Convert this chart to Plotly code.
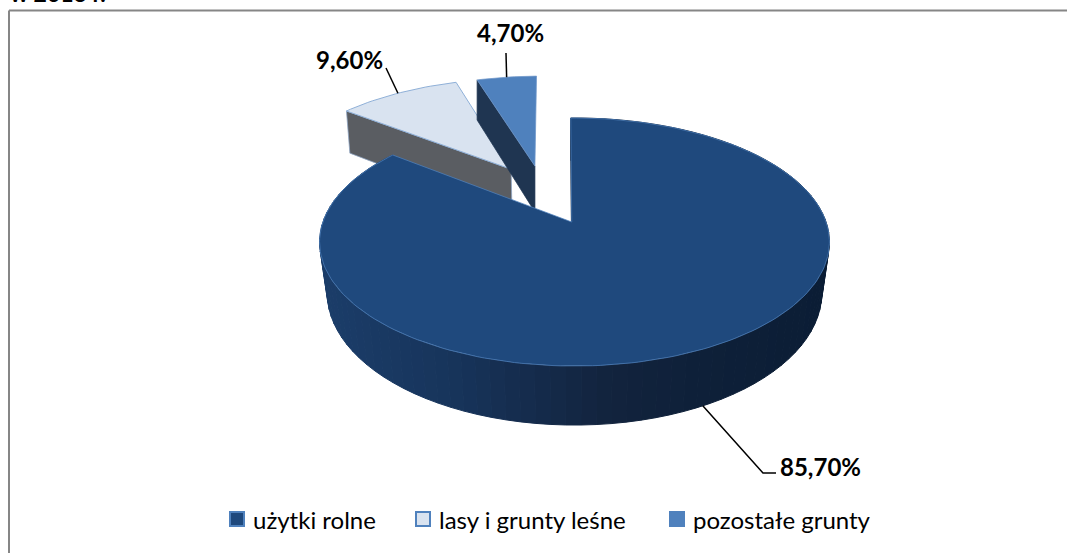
import math
import plotly.graph_objects as go

# ---- data ----
categories = ["użytki rolne", "lasy i grunty leśne", "pozostałe grunty"]
shares = [85.7, 9.6, 4.7]
title_text = "w 2013 r."

# ---- styling / projection constants ----
top_colors = ["#1f497d", "#d9e3f0", "#4f81bd"]
edge_colors = ["#4f81bd", "#8fb0d8", "#4f81bd"]
cut_colors = ["#14305a", "#5a5d62", "#1f3551"]
legend_line = ["#4f81bd", "#4f81bd", "#4f81bd"]
side_ramp = [(320, "#1b3d69"), (450, "#17345b"), (610, "#12233d"), (700, "#0e2039"), (830, "#0b1d35")]
CX, CY, A, B, K = 574.5, 222.0, 251.6, 120.8, 0.1613
FIRST_ANGLE = -1.0
DEPTH, SHRINK = 49.5, 0.97
EXPLODE = [(0.0, 0.0), (-0.271, 0.47), (-0.17, 0.5)]
MAIN_APEX_U = -0.011
W, H = 1067, 554
legend_marker_x = [237, 423, 677]
legend_text_x = [251, 437, 691]
legend_y = 519


def project(u, v, low=False, shrink=SHRINK):
    s = 1.0 / (1.0 + K * v)
    x = A * u * s
    y = CY - B * v * s
    if low:
        return CX + x * shrink, y + DEPTH * s
    return CX + x, y


def rim(theta_deg, off, low=False, shrink=SHRINK):
    t = math.radians(theta_deg)
    return project(math.sin(t) + off[0], math.cos(t) + off[1], low, shrink)


def arc(start, end, off, low=False, step=1.5):
    n = max(2, int(abs(end - start) / step) + 1)
    return [rim(start + (end - start) * i / (n - 1), off, low) for i in range(n)]


def ramp(x):
    if x <= side_ramp[0][0]:
        return side_ramp[0][1]
    for (x0, c0), (x1, c1) in zip(side_ramp, side_ramp[1:]):
        if x <= x1:
            t = (x - x0) / (x1 - x0)
            a = [int(c0[i:i + 2], 16) for i in (1, 3, 5)]
            b = [int(c1[i:i + 2], 16) for i in (1, 3, 5)]
            return "#%02x%02x%02x" % tuple(round(p + (q - p) * t) for p, q in zip(a, b))
    return side_ramp[-1][1]


fig = go.Figure()


def poly(points, fill, line=None, width=1.0):
    xs = [p[0] for p in points] + [points[0][0]]
    ys = [p[1] for p in points] + [points[0][1]]
    fig.add_trace(go.Scatter(x=xs, y=ys, mode="lines", fill="toself", fillcolor=fill,
                             line=dict(color=line or fill, width=width),
                             hoverinfo="skip", showlegend=False))


def path(points, color="#000000", width=1.5):
    fig.add_trace(go.Scatter(x=[p[0] for p in points], y=[p[1] for p in points], mode="lines",
                             line=dict(color=color, width=width),
                             hoverinfo="skip", showlegend=False))


angles = []
acc = 0.0
for v in shares:
    angles.append((FIRST_ANGLE + acc * 3.6, FIRST_ANGLE + (acc + v) * 3.6))
    acc += v

# lasy: cut face then top
s, e = angles[1]
off = EXPLODE[1]
a0, a1 = project(off[0], off[1]), project(off[0], off[1], True, 0.985)
r0, r1 = rim(s, off), rim(s, off, True, 0.985)
poly([r0, a0, a1, r1], cut_colors[1], "#8fa6c4", 0.75)
poly([a0] + arc(s, e, off), top_colors[1], edge_colors[1], 1)

# pozostałe: cut face then top
s, e = angles[2]
off = EXPLODE[2]
a0, a1 = project(off[0], off[1]), project(off[0], off[1], True, 1.0)
r0, r1 = rim(s, off), rim(s, off, True, 1.0)
poly([r0, a0, a1, r1], cut_colors[2], cut_colors[2], 0.75)
poly([a0] + arc(s, e, off), top_colors[2], "#6f97c9", 0.75)

# użytki rolne: side strips with a shading ramp, then top
s, e = angles[0]
off = EXPLODE[0]
a0, a1 = project(MAIN_APEX_U, 0), project(MAIN_APEX_U, 0, True)
poly([rim(s, off), a0, a1, rim(s, off, True)], "#10243f")
strip = 3.0
n = int(round((e - s) / strip))
for i in range(n):
    t0 = s + (e - s) * i / n
    t1 = s + (e - s) * (i + 1) / n
    mid = rim((t0 + t1) / 2, off)[0]
    poly(arc(t0, t1, off) + arc(t1, t0, off, True), ramp(mid))
poly([a0] + arc(s, e, off), top_colors[0], edge_colors[0], 0.75)

# leader lines and data labels
label_pos = [(820, 466), (349, 59), (510, 32)]
elbows = [[(763, 473), (776, 473)], [(386, 68)], [(506, 53)]]
for i, v in enumerate(shares):
    m = sum(angles[i]) / 2
    start = rim(m, EXPLODE[i], low=(i == 0))
    path([start] + elbows[i])
    fig.add_annotation(x=label_pos[i][0], y=label_pos[i][1], text=f"<b>{v:.2f}%</b>".replace(".", ","),
                       showarrow=False, font=dict(family="Lato", size=24, color="#000000"),
                       xanchor="center", yanchor="middle")

# legend entries
for i, c in enumerate(categories):
    fig.add_trace(go.Scatter(x=[legend_marker_x[i]], y=[legend_y], mode="markers", name=c,
                             marker=dict(symbol="square", size=14, color=top_colors[i],
                                         line=dict(color=legend_line[i], width=2)),
                             hoverinfo="name", showlegend=False))
    fig.add_annotation(x=legend_text_x[i], y=legend_y, text=c, showarrow=False, xanchor="left", yanchor="middle",
                       font=dict(family="Lato", size=24, color="#000000"))

fig.add_annotation(x=8, y=9, text=f"<b>{title_text}</b>", showarrow=False, xanchor="left",
                   yanchor="bottom", font=dict(family="Lato", size=23, color="#000000"))

# chart frame: only its top and left edges fall inside the picture
fig.add_shape(type="line", x0=9, y0=10.5, x1=W, y1=10.5, line=dict(color="#868686", width=2), layer="below")
fig.add_shape(type="line", x0=9, y0=10.5, x1=9, y1=553, line=dict(color="#868686", width=2), layer="below")

fig.update_layout(
    width=W, height=H, margin=dict(l=0, r=0, t=0, b=0), paper_bgcolor="#ffffff", plot_bgcolor="#ffffff",
    showlegend=False,
    xaxis=dict(range=[0, W], visible=False, fixedrange=True),
    yaxis=dict(range=[H, 0], visible=False, fixedrange=True),
)
fig.write_html("out.html", config={"displayModeBar": False},
               post_script="document.body.style.margin='0';document.documentElement.style.overflow='hidden';")
